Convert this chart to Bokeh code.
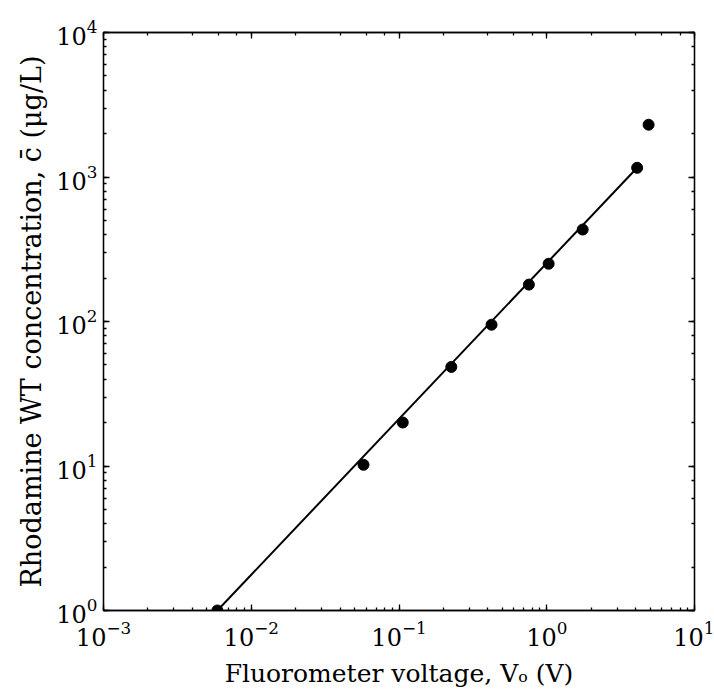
from bokeh.plotting import figure
from bokeh.models import LogAxis, LogTicker, LogTickFormatter, ColumnDataSource
from bokeh.embed import file_html
from bokeh.resources import INLINE

# Measured calibration points
voltage = [0.0059, 0.0575, 0.106, 0.226, 0.423, 0.757, 1.03, 1.75, 4.09, 4.89]
concentration = [1.0, 10.2, 20.0, 48.5, 95.0, 180.0, 251.0, 433.0, 1158.0, 2300.0]

# Fitted calibration line end points
fit_voltage = [0.0059, 4.09]
fit_concentration = [1.0, 1158.0]

x_range = (1e-3, 1e1)
y_range = (1e0, 1e4)

FONT = "DejaVu Serif"

p = figure(width=714, height=700, x_axis_type="log", y_axis_type="log",
           x_range=x_range, y_range=y_range,
           output_backend="svg", toolbar_location=None,
           min_border_left=103, min_border_right=20,
           min_border_top=32, min_border_bottom=90)

p.xgrid.visible = False
p.ygrid.visible = False
p.outline_line_color = "black"
p.outline_line_width = 1.3
p.background_fill_color = "white"
p.border_fill_color = "white"

src_fit = ColumnDataSource(dict(x=fit_voltage, y=fit_concentration))
p.line("x", "y", source=src_fit, line_color="black", line_width=2)
src = ColumnDataSource(dict(x=voltage, y=concentration))
p.scatter("x", "y", source=src, size=11, color="black")

def style_axis(ax, labels=True):
    ax.axis_line_color = "black"
    ax.axis_line_width = 1.3
    ax.major_tick_in = 6
    ax.major_tick_out = 0
    ax.minor_tick_in = 3
    ax.minor_tick_out = 0
    ax.major_tick_line_color = "black"
    ax.minor_tick_line_color = "black"
    ax.major_tick_line_width = 1.3
    ax.minor_tick_line_width = 1.3
    ax.major_label_text_font = FONT
    ax.major_label_text_color = "black"
    if labels:
        ax.major_label_text_font_size = "24px"
    else:
        ax.major_label_text_font_size = "1px"
        ax.major_label_text_alpha = 0
        ax.major_label_standoff = 0

xa = p.xaxis[0]
style_axis(xa)
xa.major_label_standoff = 10
xa.axis_label = "Fluorometer voltage, Vₒ (V)"
xa.axis_label_text_font = FONT
xa.axis_label_text_font_size = "25px"
xa.axis_label_text_font_style = "normal"
xa.axis_label_text_color = "black"
xa.axis_label_standoff = 10

ya = p.yaxis[0]
style_axis(ya)
ya.major_label_standoff = 6
ya.axis_label = "Rhodamine WT concentration, c̄ (μg/L)"
ya.axis_label_text_font = FONT
ya.axis_label_text_font_size = "27px"
ya.axis_label_text_font_style = "normal"
ya.axis_label_text_color = "black"
ya.axis_label_standoff = 6

top = LogAxis(ticker=LogTicker(), formatter=LogTickFormatter())
style_axis(top, labels=False)
p.add_layout(top, "above")
right = LogAxis(ticker=LogTicker(), formatter=LogTickFormatter())
style_axis(right, labels=False)
p.add_layout(right, "right")

open("out.html", "w").write(file_html(p, INLINE))
